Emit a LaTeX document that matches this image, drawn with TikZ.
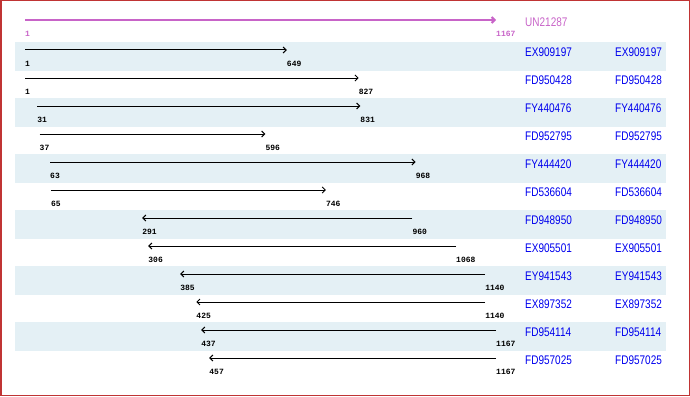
\documentclass[tikz,border=0pt]{standalone}
\usepackage{fontspec}
\usepackage{tikz}
\usepackage{xcolor}
\usetikzlibrary{arrows.meta}
\newfontfamily\namefont[FakeStretch=0.8]{Liberation Sans}
\newfontfamily\numfont{Liberation Mono}
\definecolor{hitband}{HTML}{E4F0F5}
\definecolor{hitname}{HTML}{0000EE}
\definecolor{querypink}{HTML}{C864C8}
\definecolor{framered}{HTML}{C03434}
\newcommand{\qx}[1]{25+(#1-1)*0.40395}
\tikzset{
  hit/.style={line width=1pt, -{Straight Barb[length=3pt,width=6pt]}},
  num/.style={anchor=west, inner sep=0pt, font=\numfont\bfseries\fontsize{8}{8}\selectfont},
  acc/.style={anchor=west, inner sep=0pt, text=hitname, font=\namefont\fontsize{12.5}{12.5}\selectfont}
}

\begin{document}
\begin{tikzpicture}[x=1pt, y=-1pt]
            % frame
            \useasboundingbox (0,0) rectangle (690,396);
            \draw[framered, line width=1.5pt] (0.75,0.75) rectangle (689.25,395.25);
            % bands
            \fill[hitband] (15,42) rectangle (666,70.5);
            \fill[hitband] (15,98) rectangle (666,126.5);
            \fill[hitband] (15,154) rectangle (666,182.5);
            \fill[hitband] (15,210) rectangle (666,238.5);
            \fill[hitband] (15,266) rectangle (666,294.5);
            \fill[hitband] (15,322) rectangle (666,350.5);
            % query
            \coordinate (q0a) at ({\qx{1}},20);
            \coordinate (q0b) at ({\qx{1167}},20);
            \draw[hit, querypink, line width=2pt] (q0a) -- (q0b);
            \node[num, text=querypink] (q0lo) at ([yshift=-14pt]q0a) {1};
            \node[num, text=querypink] (q0hi) at ([yshift=-14pt]q0b) {1167};
            \node[acc, text=querypink] (q0n) at (525,22) {UN21287};
            % EX909197
            \coordinate (r1a) at ({\qx{1}},50);
            \coordinate (r1b) at ({\qx{649}},50);
            \draw[hit] (r1a) -- (r1b);
            \node[num] (r1lo) at ([yshift=-14pt]r1a) {1};
            \node[num] (r1hi) at ([yshift=-14pt]r1b) {649};
            \node[acc] (r1n) at (525,52) {EX909197};
            \node[acc] (r1m) at (615,52) {EX909197};
            % FD950428
            \coordinate (r2a) at ({\qx{1}},78);
            \coordinate (r2b) at ({\qx{827}},78);
            \draw[hit] (r2a) -- (r2b);
            \node[num] (r2lo) at ([yshift=-14pt]r2a) {1};
            \node[num] (r2hi) at ([yshift=-14pt]r2b) {827};
            \node[acc] (r2n) at (525,80) {FD950428};
            \node[acc] (r2m) at (615,80) {FD950428};
            % FY440476
            \coordinate (r3a) at ({\qx{31}},106);
            \coordinate (r3b) at ({\qx{831}},106);
            \draw[hit] (r3a) -- (r3b);
            \node[num] (r3lo) at ([yshift=-14pt]r3a) {31};
            \node[num] (r3hi) at ([yshift=-14pt]r3b) {831};
            \node[acc] (r3n) at (525,108) {FY440476};
            \node[acc] (r3m) at (615,108) {FY440476};
            % FD952795
            \coordinate (r4a) at ({\qx{37}},134);
            \coordinate (r4b) at ({\qx{596}},134);
            \draw[hit] (r4a) -- (r4b);
            \node[num] (r4lo) at ([yshift=-14pt]r4a) {37};
            \node[num] (r4hi) at ([yshift=-14pt]r4b) {596};
            \node[acc] (r4n) at (525,136) {FD952795};
            \node[acc] (r4m) at (615,136) {FD952795};
            % FY444420
            \coordinate (r5a) at ({\qx{63}},162);
            \coordinate (r5b) at ({\qx{968}},162);
            \draw[hit] (r5a) -- (r5b);
            \node[num] (r5lo) at ([yshift=-14pt]r5a) {63};
            \node[num] (r5hi) at ([yshift=-14pt]r5b) {968};
            \node[acc] (r5n) at (525,164) {FY444420};
            \node[acc] (r5m) at (615,164) {FY444420};
            % FD536604
            \coordinate (r6a) at ({\qx{65}},190);
            \coordinate (r6b) at ({\qx{746}},190);
            \draw[hit] (r6a) -- (r6b);
            \node[num] (r6lo) at ([yshift=-14pt]r6a) {65};
            \node[num] (r6hi) at ([yshift=-14pt]r6b) {746};
            \node[acc] (r6n) at (525,192) {FD536604};
            \node[acc] (r6m) at (615,192) {FD536604};
            % FD948950 (reverse)
            \coordinate (r7a) at ({\qx{291}},218);
            \coordinate (r7b) at ({\qx{960}},218);
            \draw[hit] (r7b) -- (r7a);
            \node[num] (r7lo) at ([yshift=-14pt]r7a) {291};
            \node[num] (r7hi) at ([yshift=-14pt]r7b) {960};
            \node[acc] (r7n) at (525,220) {FD948950};
            \node[acc] (r7m) at (615,220) {FD948950};
            % EX905501 (reverse)
            \coordinate (r8a) at ({\qx{306}},246);
            \coordinate (r8b) at ({\qx{1068}},246);
            \draw[hit] (r8b) -- (r8a);
            \node[num] (r8lo) at ([yshift=-14pt]r8a) {306};
            \node[num] (r8hi) at ([yshift=-14pt]r8b) {1068};
            \node[acc] (r8n) at (525,248) {EX905501};
            \node[acc] (r8m) at (615,248) {EX905501};
            % EY941543 (reverse)
            \coordinate (r9a) at ({\qx{385}},274);
            \coordinate (r9b) at ({\qx{1140}},274);
            \draw[hit] (r9b) -- (r9a);
            \node[num] (r9lo) at ([yshift=-14pt]r9a) {385};
            \node[num] (r9hi) at ([yshift=-14pt]r9b) {1140};
            \node[acc] (r9n) at (525,276) {EY941543};
            \node[acc] (r9m) at (615,276) {EY941543};
            % EX897352 (reverse)
            \coordinate (r10a) at ({\qx{425}},302);
            \coordinate (r10b) at ({\qx{1140}},302);
            \draw[hit] (r10b) -- (r10a);
            \node[num] (r10lo) at ([yshift=-14pt]r10a) {425};
            \node[num] (r10hi) at ([yshift=-14pt]r10b) {1140};
            \node[acc] (r10n) at (525,304) {EX897352};
            \node[acc] (r10m) at (615,304) {EX897352};
            % FD954114 (reverse)
            \coordinate (r11a) at ({\qx{437}},330);
            \coordinate (r11b) at ({\qx{1167}},330);
            \draw[hit] (r11b) -- (r11a);
            \node[num] (r11lo) at ([yshift=-14pt]r11a) {437};
            \node[num] (r11hi) at ([yshift=-14pt]r11b) {1167};
            \node[acc] (r11n) at (525,332) {FD954114};
            \node[acc] (r11m) at (615,332) {FD954114};
            % FD957025 (reverse)
            \coordinate (r12a) at ({\qx{457}},358);
            \coordinate (r12b) at ({\qx{1167}},358);
            \draw[hit] (r12b) -- (r12a);
            \node[num] (r12lo) at ([yshift=-14pt]r12a) {457};
            \node[num] (r12hi) at ([yshift=-14pt]r12b) {1167};
            \node[acc] (r12n) at (525,360) {FD957025};
            \node[acc] (r12m) at (615,360) {FD957025};
        \end{tikzpicture}
\end{document}
